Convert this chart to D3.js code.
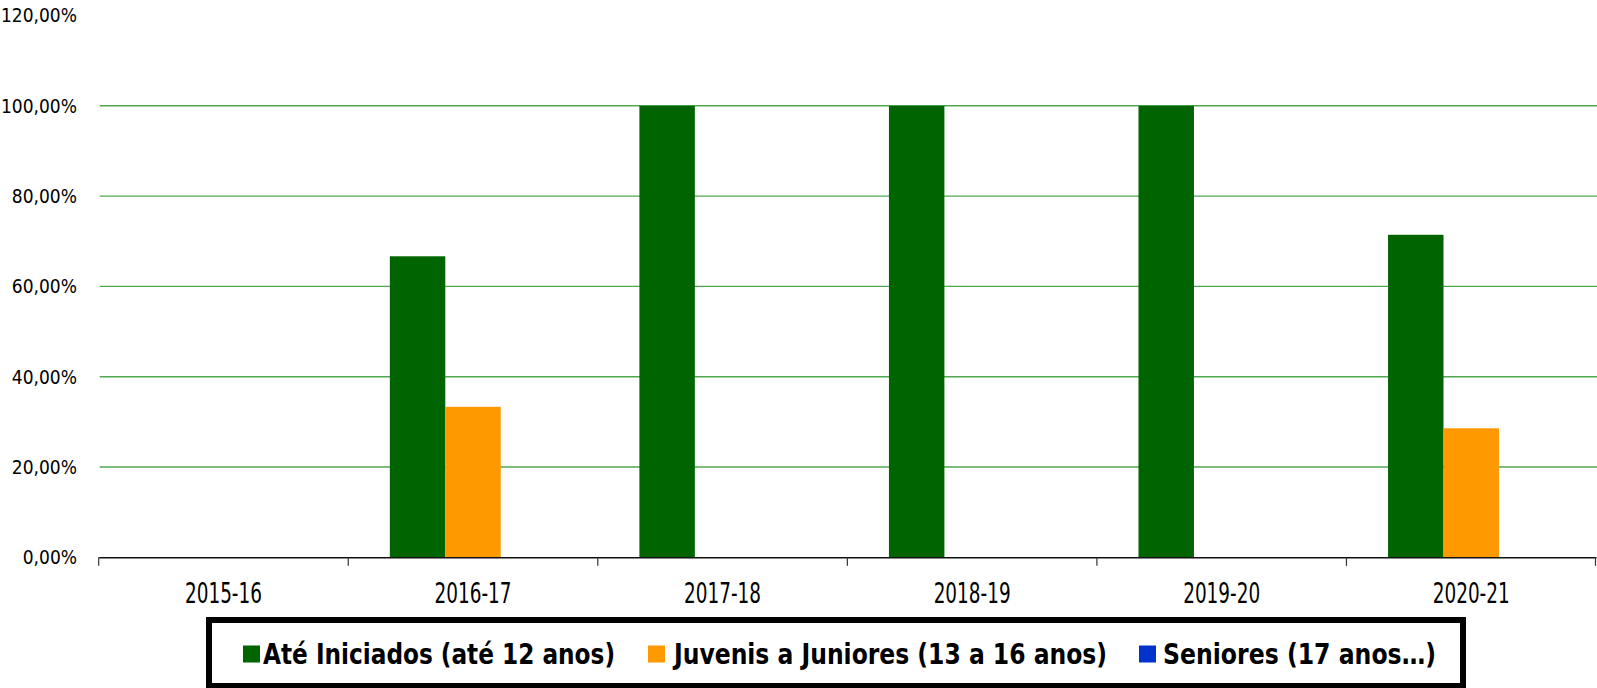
<!DOCTYPE html>
<head>
    <meta charset="utf-8">
    <title>Escalões</title>
    <script type="text/javascript" src="https://d3js.org/d3.v7.min.js"></script>
    <style>
        body { margin: 0; background: #fff; }
        text { font-family: "Liberation Sans Narrow", "DejaVu Sans Condensed", sans-serif; fill: #000; }
    </style>
</head>
<body>
<div id="container"></div>
<script>
    //-----------------------------DATA------------------------------//
    const categories = ["2015-16", "2016-17", "2017-18", "2018-19", "2019-20", "2020-21"];
    const ateIniciados = [0, 66.67, 100, 100, 100, 71.43];
    const juvenisJuniores = [0, 33.33, 0, 0, 0, 28.57];
    const seniores = [0, 0, 0, 0, 0, 0];
    const seriesNames = ["Até Iniciados (até 12 anos)", "Juvenis a Juniores (13 a 16 anos)", "Seniores (17 anos…)"];
    const yTicks = [0, 20, 40, 60, 80, 100, 120];

    const colors = ["#006400", "#ff9900", "#0033cc"];
    const seriesValues = [ateIniciados, juvenisJuniores, seniores];

    //-----------------------------SVG-------------------------------//
    const width = 1597;
    const height = 688;
    const margin = {top: 15.5, right: 1, bottom: 130.7, left: 98.7};

    const svg = d3.select("div#container").append("svg")
        .attr("width", width)
        .attr("height", height);

    //----------------------------SCALES-----------------------------//
    const xScale = d3.scaleBand()
        .domain(categories)
        .range([margin.left, width - margin.right])
        .paddingInner(0)
        .paddingOuter(0);

    const xSub = d3.scaleBand()
        .domain(d3.range(seriesNames.length))
        .range([xScale.bandwidth() / 6, xScale.bandwidth() * 5 / 6]);

    const yScale = d3.scaleLinear()
        .domain([0, 120])
        .range([height - margin.bottom, margin.top]);

    const fmt = function(v) { return d3.format(".2f")(v).replace(".", ",") + "%"; };

    //----------------------------GRID------------------------------//
    svg.append("g")
        .selectAll("line")
        .data(yTicks.filter(function(t) { return t > 0 && t < 120; }))
        .enter()
        .append("line")
        .attr("x1", margin.left + 1)
        .attr("x2", width)
        .attr("y1", function(d) { return yScale(d); })
        .attr("y2", function(d) { return yScale(d); })
        .attr("stroke", "#4fa84f")
        .attr("stroke-width", 1.4);

    // y labels
    svg.append("g")
        .selectAll("text")
        .data(yTicks)
        .enter()
        .append("text")
        .attr("x", 77)
        .attr("y", function(d) { return yScale(d); })
        .attr("dy", "0.36em")
        .attr("text-anchor", "end")
        .style("font-size", "19px")
        .text(fmt);

    //----------------------------BARS------------------------------//
    const groups = svg.append("g")
        .selectAll("g")
        .data(categories)
        .enter()
        .append("g")
        .attr("transform", function(d) { return `translate(${xScale(d)},0)`; });

    groups.selectAll("rect")
        .data(function(d, i) {
            return seriesValues.map(function(vals, s) { return {s: s, value: vals[i]}; });
        })
        .enter()
        .append("rect")
        .attr("x", function(d) { return xSub(d.s); })
        .attr("width", xSub.bandwidth())
        .attr("y", function(d) { return yScale(d.value); })
        .attr("height", function(d) { return yScale(0) - yScale(d.value); })
        .attr("fill", function(d) { return colors[d.s]; });

    //-----------------------------AXES------------------------------//
    const xaxis = d3.axisBottom(xScale).tickSize(0).tickPadding(0);
    const xg = svg.append("g")
        .attr("transform", `translate(0, ${yScale(0)})`)
        .call(xaxis);
    xg.select(".domain").attr("stroke", "#111").attr("stroke-width", 1.5);
    xg.selectAll(".tick text")
        .attr("y", 46)
        .attr("dy", 0)
        .style("font-size", "29px")
        .attr("textLength", 77)
        .attr("lengthAdjust", "spacingAndGlyphs");

    // boundary ticks between categories
    const bounds = categories.map(function(c) { return xScale(c); }).concat([xScale.range()[1] - 0.5]);
    xg.selectAll(".bound")
        .data(bounds)
        .enter()
        .append("line")
        .attr("class", "bound")
        .attr("x1", function(d) { return d; })
        .attr("x2", function(d) { return d; })
        .attr("y1", 0)
        .attr("y2", 8.5)
        .attr("stroke", "#333")
        .attr("stroke-width", 1.2);

    //----------------------------LEGEND----------------------------//
    svg.append("rect")
        .attr("x", 209)
        .attr("y", 620)
        .attr("width", 1254)
        .attr("height", 66)
        .attr("fill", "#fff")
        .attr("stroke", "#000")
        .attr("stroke-width", 6);

    const legendPos = [
        {sq: 243, tx: 263, w: 352},
        {sq: 648, tx: 674, w: 433},
        {sq: 1139, tx: 1163, w: 273}
    ];

    const legend = svg.append("g")
        .selectAll("g")
        .data(seriesNames)
        .enter()
        .append("g");

    legend.append("rect")
        .attr("x", function(d, i) { return legendPos[i].sq; })
        .attr("y", 645.5)
        .attr("width", 17)
        .attr("height", 17)
        .attr("fill", function(d, i) { return colors[i]; });

    legend.append("text")
        .attr("x", function(d, i) { return legendPos[i].tx; })
        .attr("y", 664)
        .style("font-size", "29px")
        .style("font-weight", "bold")
        .attr("textLength", function(d, i) { return legendPos[i].w; })
        .attr("lengthAdjust", "spacingAndGlyphs")
        .text(function(d) { return d; });
</script>
</body>
